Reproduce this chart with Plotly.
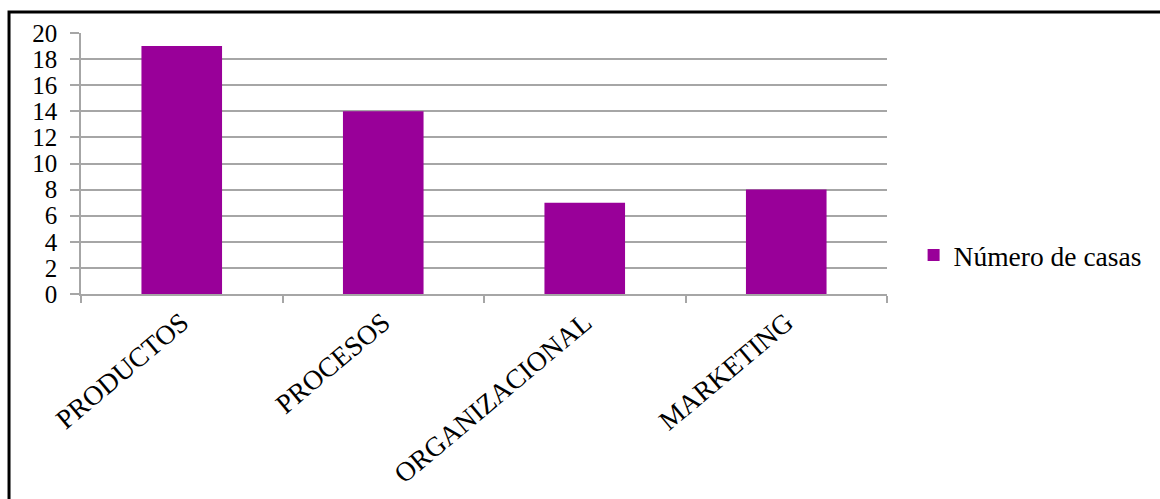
import plotly.graph_objects as go

categories = ["PRODUCTOS", "PROCESOS", "ORGANIZACIONAL", "MARKETING"]
values = [19, 14, 7, 8]
series_name = "Número de casas"
y_ticks = [0, 2, 4, 6, 8, 10, 12, 14, 16, 18, 20]

FONT = "Liberation Serif"
GRAY = "#a6a6a6"

fig = go.Figure()
fig.add_trace(go.Bar(
    x=categories, y=values, name=series_name,
    marker=dict(color="#990099", line=dict(width=0)),
    showlegend=True,
))

fig.update_layout(
    width=1160, height=499,
    margin=dict(l=81, r=273, t=33, b=205, autoexpand=False),
    paper_bgcolor="white", plot_bgcolor="white",
    font=dict(family=FONT, size=25, color="black"),
    bargap=0.6,
    showlegend=True,
    legend=dict(x=1.033, xanchor="left", y=0.149, yanchor="middle",
                font=dict(family=FONT, size=27.5, color="black"),
                bgcolor="rgba(0,0,0,0)", borderwidth=0),
    xaxis=dict(
        type="category", showgrid=False, showline=True, linecolor=GRAY, linewidth=1.5,
        ticks="outside", tickson="boundaries", ticklen=7, tickcolor=GRAY, tickwidth=1.5,
        tickangle=-40, tickfont=dict(family=FONT, size=27.5, color="black"),
        zeroline=False, automargin=False,
    ),
    yaxis=dict(
        range=[0, 20], tickmode="array", tickvals=y_ticks,
        showgrid=True, gridcolor=GRAY, gridwidth=1.5,
        showline=True, linecolor=GRAY, linewidth=1.5,
        ticks="outside", ticklen=9, tickcolor=GRAY, tickwidth=1.5,
        tickfont=dict(family=FONT, size=25, color="black"),
        zeroline=False, ticklabelstandoff=8, automargin=False,
    ),
    shapes=[dict(type="rect", xref="paper", yref="paper",
                 x0=-0.0893, x1=2.0, y0=-2.0, y1=1.0805,
                 line=dict(color="black", width=3), fillcolor="rgba(0,0,0,0)",
                 layer="above")],
)

fig.write_html("out.html")
